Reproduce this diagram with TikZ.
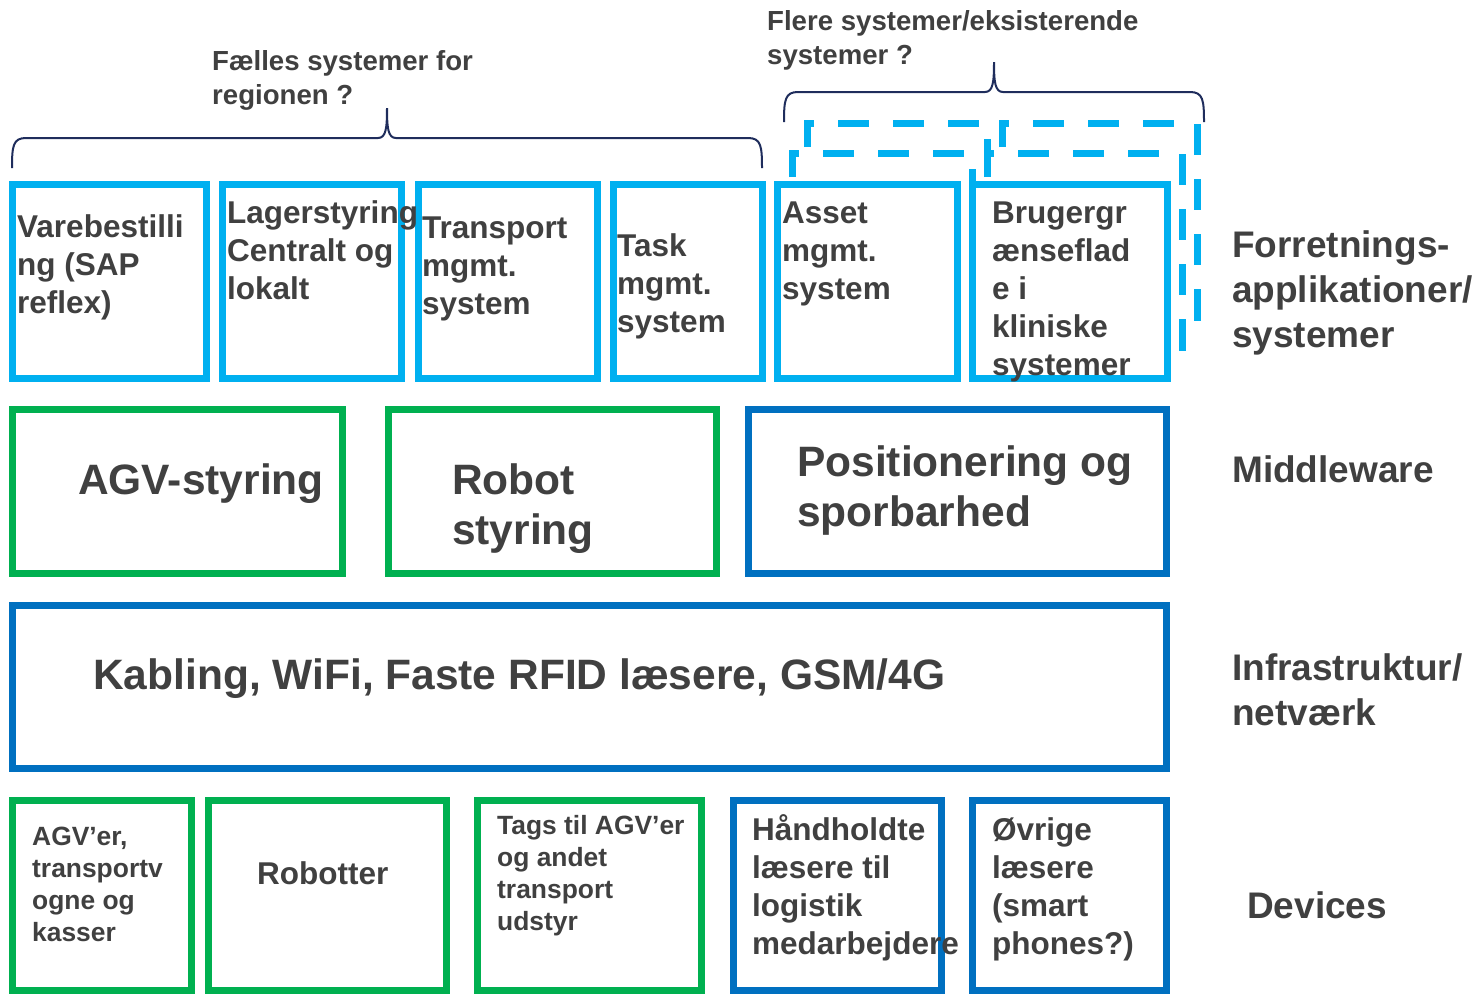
\documentclass[tikz,border=0pt]{standalone}
\usepackage{fontspec}
\setmainfont{Liberation Sans}
\definecolor{txt}{HTML}{404040}
\definecolor{cyanb}{HTML}{00B0F0}
\definecolor{greenb}{HTML}{00B050}
\definecolor{blueb}{HTML}{0070C0}
\definecolor{bracec}{HTML}{1F2D5C}
\tikzset{
  box/.style={line width=7pt, fill=white},
  appbox/.style={box, draw=cyanb},
  ghostbox/.style={box, draw=cyanb, dash pattern=on 31pt off 24pt, dash phase=50pt},
  grnbox/.style={box, draw=greenb},
  blubox/.style={box, draw=blueb},
  bracepath/.style={draw=bracec, line width=2pt},
  % multi-line labels are placed by the baseline of their last line
  lbl/.style={anchor=base west, align=left, inner sep=0pt, text=txt},
  tsmall/.style={font=\bfseries\fontsize{26.4}{32}\selectfont},
  ttop/.style={font=\bfseries\fontsize{27.6}{34}\selectfont},
  tmid/.style={font=\bfseries\fontsize{31.5}{38.2}\selectfont},
  tdev/.style={font=\bfseries\fontsize{31.5}{38}\selectfont},
  tside/.style={font=\bfseries\fontsize{37}{45}\selectfont},
  tbig/.style={font=\bfseries\fontsize{42.5}{50.5}\selectfont},
}
\begin{document}
\begin{tikzpicture}[x=1pt,y=-1pt]
\useasboundingbox (0,0) rectangle (1481,994);

% braces over the application row
\draw[bracepath] (12,168) .. controls (12,146) and (13,138) .. (26,138) -- (378,138)
  .. controls (386,138) and (387,128) .. (387,108)
  .. controls (387,128) and (388,138) .. (396,138) -- (748,138)
  .. controls (761,138) and (762,146) .. (762,168);
\draw[bracepath] (784,122) .. controls (784,100) and (785,92) .. (798,92) -- (985,92)
  .. controls (993,92) and (994,82) .. (994,62)
  .. controls (994,82) and (995,92) .. (1003,92) -- (1190,92)
  .. controls (1203,92) and (1204,100) .. (1204,122);

% stacked dashed copies behind the last two applications,
% each outline starting at its lower left corner and going up
\draw[ghostbox] (807,317) |- (987,123) -- (987,317);
\draw[ghostbox] (1002,317) |- (1197,123) |- (1002,317) -- cycle;
\draw[ghostbox] (792,347) |- (972,153) -- (972,347);
\draw[ghostbox] (987,347) |- (1182,153) |- (987,347) -- cycle;

% application row
\draw[appbox] (12,184) rectangle (206,378);
\draw[appbox] (222,184) rectangle (401,378);
\draw[appbox] (418,184) rectangle (597,378);
\draw[appbox] (613,184) rectangle (762,378);
\draw[appbox] (777,184) rectangle (957,378);
\draw[appbox] (972,184) rectangle (1167,378);

% middleware row
\draw[grnbox] (12,409) rectangle (342,573);
\draw[grnbox] (388,409) rectangle (716,573);
\draw[blubox] (748,409) rectangle (1166,573);

% infrastructure row
\draw[blubox] (12,605) rectangle (1166,768);

% devices row
\draw[grnbox] (12,800) rectangle (191,990);
\draw[grnbox] (208,800) rectangle (446,990);
\draw[grnbox] (477,800) rectangle (701,990);
\draw[blubox] (733,800) rectangle (941,990);
\draw[blubox] (972,800) rectangle (1166,990);

% brace captions
\node[lbl,ttop] (faelles) at (212,104) {Fælles systemer for\\regionen ?};
\node[lbl,ttop] (flere) at (767,64) {Flere systemer/eksisterende\\systemer ?};

% application texts
\node[lbl,tmid] (vare) at (17,313.4) {Varebestilli\\ng (SAP\\reflex)};
\node[lbl,tmid] (lager) at (227,299.4) {Lagerstyring\\Centralt og\\lokalt};
\node[lbl,tmid] (transp) at (422,314.4) {Transport\\mgmt.\\system};
\node[lbl,tmid] (task) at (617,332.4) {Task\\mgmt.\\system};
\node[lbl,tmid] (asset) at (782,299.4) {Asset\\mgmt.\\system};
\node[lbl,tmid] (bruger) at (992,375.8) {Brugergr\\ænseflad\\e i\\kliniske\\systemer};

% middleware texts
\node[lbl,tbig] (agv) at (78,494) {AGV-styring};
\node[lbl,tbig] (robot) at (452,544.5) {Robot\\styring};
\node[lbl,tbig] (pos) at (797,526.5) {Positionering og\\sporbarhed};

% infrastructure text
\node[lbl,tbig] (kab) at (93,689) {Kabling, WiFi, Faste RFID læsere, GSM/4G};

% device texts
\node[lbl,tsmall] (agver) at (32,941) {AGV’er,\\transportv\\ogne og\\kasser};
\node[lbl,tmid] (robotter) at (257,884) {Robotter};
\node[lbl,tsmall] (tags) at (497,930) {Tags til AGV’er\\og andet\\transport\\udstyr};
\node[lbl,tdev] (haand) at (752,954) {Håndholdte\\læsere til\\logistik\\medarbejdere};
\node[lbl,tdev] (oevrige) at (992,954) {Øvrige\\læsere\\(smart\\phones?)};

% layer names
\node[lbl,tside] (forr) at (1232,347) {Forretnings-\\applikationer/\\systemer};
\node[lbl,tside] (mid) at (1232,482) {Middleware};
\node[lbl,tside] (infra) at (1232,725) {Infrastruktur/\\netværk};
\node[lbl,tside] (dev) at (1247,918) {Devices};
\end{tikzpicture}
\end{document}
